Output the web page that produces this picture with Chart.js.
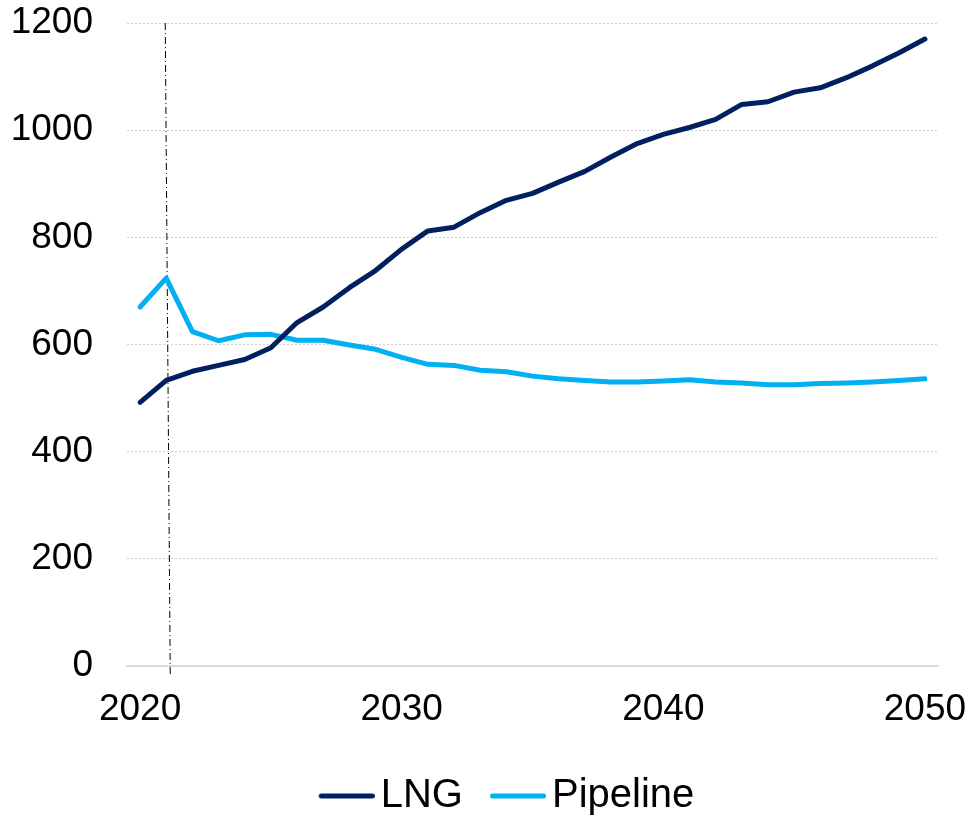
<!DOCTYPE html>
<html>
<head>
<meta charset="utf-8">
<title>LNG vs Pipeline</title>
<script src="https://cdn.jsdelivr.net/npm/chart.js@4.4.1/dist/chart.umd.min.js"></script>
<style>
  html, body { margin: 0; padding: 0; background: #fff; overflow: hidden; }
  #wrap { width: 971px; height: 816px; }
</style>
</head>
<body>
<div id="wrap"><canvas id="gasChart" width="971" height="816"></canvas></div>
<script>
// categories
const years = ['2020','2021','2022','2023','2024','2025','2026','2027','2028','2029',
               '2030','2031','2032','2033','2034','2035','2036','2037','2038','2039',
               '2040','2041','2042','2043','2044','2045','2046','2047','2048','2049','2050'];

// series
const lngValues = [492, 533, 550, 561, 572, 594, 641, 670, 706, 738,
                   778, 812, 819, 846, 869, 882, 903, 923, 950, 975,
                   992, 1005, 1020, 1048, 1053, 1071, 1079, 1098, 1120, 1144, 1170];
const pipelineValues = [670, 724, 624, 607, 618, 619, 608, 608, 599, 591,
                        576, 563, 561, 552, 549, 541, 536, 533, 530, 530,
                        532, 534, 530, 528, 525, 525, 527, 528, 530, 533, 536];

// tick labels
const yTickValues = [0, 200, 400, 600, 800, 1000, 1200];
const xTickLabels = ['2020', '2030', '2040', '2050'];
const markerYear = '2021';

const lngColor = '#002060';
const pipeColor = '#00B0F0';
const fontFamily = '"Liberation Sans", Arial, sans-serif';

// legend swatch: short rounded line, sitting close to its label
function legendSwatch(color) {
  const c = document.createElement('canvas');
  c.width = 89; c.height = 8;
  const g = c.getContext('2d');
  g.strokeStyle = color;
  g.lineWidth = 5;
  g.lineCap = 'round';
  g.beginPath();
  g.moveTo(35.5, 4);
  g.lineTo(86.5, 4);
  g.stroke();
  return c;
}

// dash-dot marker at the base year
const markerLine = {
  id: 'markerLine',
  beforeDatasetsDraw(chart) {
    const {ctx, chartArea, scales} = chart;
    const x = scales.x.getPixelForValue(years.indexOf(markerYear));
    ctx.save();
    ctx.strokeStyle = '#000';
    ctx.lineWidth = 1;
    ctx.setLineDash([7, 3, 1, 3]);
    ctx.beginPath();
    ctx.moveTo(x - 1, chartArea.top);
    ctx.lineTo(x + 4, chartArea.bottom + 8);
    ctx.stroke();
    ctx.restore();
  }
};

// legend sits a bit right of the canvas centre in the original
const legendShift = {
  id: 'legendShift',
  afterLayout(chart) {
    chart.legend.left += 23;
    chart.legend.right += 23;
  }
};

const ctx = document.getElementById('gasChart').getContext('2d');
new Chart(ctx, {
  type: 'line',
  data: {
    labels: years,
    datasets: [{
      label: 'LNG',
      data: lngValues,
      borderColor: lngColor,
      backgroundColor: lngColor,
      borderWidth: 5,
      borderCapStyle: 'round',
      borderJoinStyle: 'round',
      pointRadius: 0,
      tension: 0
    }, {
      label: 'Pipeline',
      data: pipelineValues,
      borderColor: pipeColor,
      backgroundColor: pipeColor,
      borderWidth: 5,
      borderCapStyle: 'round',
      borderJoinStyle: 'round',
      pointRadius: 0,
      tension: 0
    }]
  },
  options: {
    responsive: false,
    animation: false,
    layout: { padding: { top: 23, left: 10, right: 33, bottom: -10 } },
    plugins: {
      tooltip: { enabled: false },
      legend: {
        position: 'bottom',
        labels: {
          usePointStyle: true,
          pointStyleWidth: 61,
          boxHeight: 8,
          padding: 8,
          color: '#000',
          font: { family: fontFamily, size: 40 },
          generateLabels(chart) {
            const items = Chart.defaults.plugins.legend.labels.generateLabels(chart);
            items.forEach((it, i) => {
              it.pointStyle = legendSwatch(i === 0 ? lngColor : pipeColor);
            });
            return items;
          }
        }
      }
    },
    scales: {
      x: {
        offset: true,
        grid: { display: false, drawTicks: false },
        border: { display: true, color: '#d9d9d9', width: 2 },
        ticks: {
          autoSkip: false,
          maxRotation: 0,
          padding: 22,
          color: '#000',
          font: { family: fontFamily, size: 37 },
          callback(value) {
            const lab = years[value];
            return xTickLabels.includes(lab) ? lab : '';
          }
        },
        afterFit(scale) {
          scale.height = 102;
          scale.paddingLeft = 0;
          scale.paddingRight = 0;
        }
      },
      y: {
        min: 0,
        max: 1200,
        afterBuildTicks(scale) { scale.ticks = yTickValues.map(v => ({ value: v })); },
        grid: {
          drawTicks: false,
          lineWidth: 1,
          color: ctx2 => ctx2.tick && ctx2.tick.value === 0 ? 'rgba(0,0,0,0)' : '#cfcfcf'
        },
        border: { display: false, dash: [2, 2] },
        ticks: {
          padding: 34,
          color: '#000',
          font: { family: fontFamily, size: 37 },
          callback: value => String(value)
        },
        afterFit(scale) {
          scale.width = 117;
          scale.paddingTop = 0;
          scale.paddingBottom = 0;
        }
      }
    }
  },
  plugins: [markerLine, legendShift]
});
</script>
</body>
</html>
